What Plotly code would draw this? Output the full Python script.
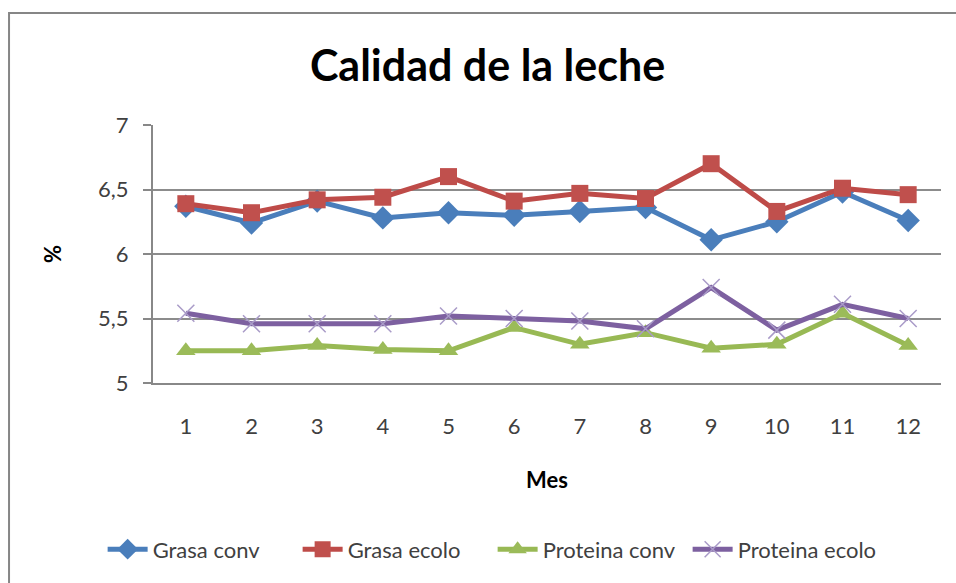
import plotly.graph_objects as go

meses = [1, 2, 3, 4, 5, 6, 7, 8, 9, 10, 11, 12]
grasa_conv = [6.37, 6.24, 6.41, 6.28, 6.32, 6.30, 6.33, 6.36, 6.11, 6.25, 6.48, 6.26]
grasa_ecolo = [6.39, 6.32, 6.42, 6.44, 6.60, 6.41, 6.47, 6.43, 6.70, 6.33, 6.51, 6.46]
proteina_conv = [5.25, 5.25, 5.29, 5.26, 5.25, 5.43, 5.30, 5.39, 5.27, 5.30, 5.54, 5.29]
proteina_ecolo = [5.54, 5.46, 5.46, 5.46, 5.52, 5.50, 5.48, 5.42, 5.74, 5.41, 5.61, 5.50]
y_ticks = [5, 5.5, 6, 6.5, 7]

FONT = "Lato"

fig = go.Figure()
fig.add_trace(go.Scatter(x=meses, y=grasa_conv, name="Grasa conv", mode="lines+markers",
                         line=dict(color="#4A7EBB", width=5),
                         marker=dict(symbol="diamond", size=18, color="#4A7EBB")))
fig.add_trace(go.Scatter(x=meses, y=grasa_ecolo, name="Grasa ecolo", mode="lines+markers",
                         line=dict(color="#BE4B48", width=5),
                         marker=dict(symbol="square", size=17, color="#C0504D")))
fig.add_trace(go.Scatter(x=meses, y=proteina_conv, name="Proteina conv", mode="lines+markers",
                         line=dict(color="#98B954", width=5),
                         marker=dict(symbol="triangle-up", size=17, color="#9BBB59")))
fig.add_trace(go.Scatter(x=meses, y=proteina_ecolo, name="Proteina ecolo", mode="lines+markers",
                         line=dict(color="#7D60A0", width=5),
                         marker=dict(symbol="x-thin", size=17, color="#A99BC8",
                                     line=dict(width=1.5, color="#A99BC8"))))

fig.update_layout(
    width=956, height=583,
    paper_bgcolor="white", plot_bgcolor="white",
    margin=dict(l=153, r=15, t=125, b=200),
    separators=", ",
    font=dict(family=FONT, color="#404040", size=22),
    title=dict(text="<b>Calidad de la leche</b>", x=0.51, xanchor="center",
               y=0.887, yanchor="middle",
               font=dict(family=FONT, size=43, color="black")),
    showlegend=True,
    legend=dict(orientation="h", x=0.431, xanchor="center", y=-0.645, yanchor="middle",
                font=dict(family=FONT, size=22, color="#404040"),
                itemwidth=40, entrywidth=140, entrywidthmode="pixels",
                tracegroupgap=0, bgcolor="rgba(0,0,0,0)"),
    xaxis=dict(range=[0.5, 12.5], tickmode="array", tickvals=meses,
               ticktext=[str(m) for m in meses], ticks="", showgrid=False,
               showline=True, linecolor="#888888", linewidth=2,
               ticklabelstandoff=23, zeroline=False,
               tickfont=dict(size=22, color="#404040"),
               title=dict(text="<b>Mes</b>", standoff=34,
                          font=dict(size=22, color="black"))),
    yaxis=dict(range=[5, 7], tickmode="array", tickvals=y_ticks,
               ticks="outside", ticklen=8, tickcolor="#888888", tickwidth=2,
               showgrid=True, gridcolor="#8C8C8C", gridwidth=2,
               showline=True, linecolor="#888888", linewidth=2,
               zeroline=False, ticklabelstandoff=10,
               tickfont=dict(size=22, color="#404040"),
               title=dict(text="<b>%</b>", standoff=30,
                          font=dict(size=22, color="black"))),
)

fig.add_shape(type="rect", xref="paper", yref="paper",
              x0=-0.1827, x1=1.1, y0=-1.0, y1=1.434,
              line=dict(color="#868686", width=2), fillcolor="rgba(0,0,0,0)", layer="below")

fig.write_html("out.html", config={"displayModeBar": False},
               post_script="document.body.style.margin='0';")
